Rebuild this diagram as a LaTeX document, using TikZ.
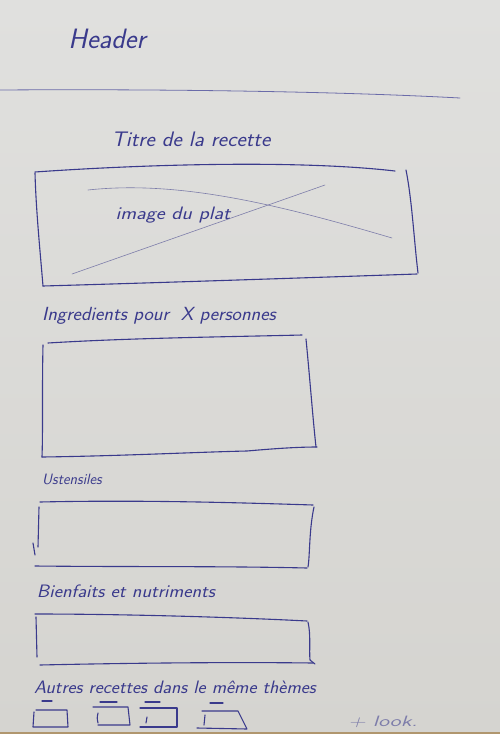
\documentclass[tikz,border=0pt]{standalone}
\usepackage{graphicx}
\usepackage{xcolor}
\definecolor{pen}{RGB}{58,58,140}
\definecolor{penlight}{RGB}{125,125,170}
\definecolor{paperA}{RGB}{224,224,222}
\definecolor{paperB}{RGB}{213,212,208}
\definecolor{tablewood}{RGB}{176,150,110}
\newcommand{\wide}[2]{\scalebox{#1}[1]{#2}}
\begin{document}
\begin{tikzpicture}[x=1pt,y=-1pt,
  ink/.style={draw=pen,line width=1.1pt,line cap=round,line join=round},
  faint/.style={draw=penlight,line width=0.6pt,line cap=round},
  lbl/.style={text=pen,inner sep=0pt,font=\sffamily\itshape\fontsize{18}{20}\selectfont},
]
\useasboundingbox (0,0) rectangle (500,734);
\shade[top color=paperA,bottom color=paperB] (0,0) rectangle (500,734);
\fill[tablewood] (0,731.5) rectangle (500,734);

% header
\node[lbl,font=\sffamily\itshape\fontsize{28}{30}\selectfont] (hdr) at (107,39) {Header};
\draw[faint,draw=pen!75,line width=0.8pt] (0,90) .. controls (150,89) and (330,91) .. (460,98);

% title + image
\node[lbl,font=\sffamily\itshape\fontsize{21}{23}\selectfont] (title) at (191,139) {\wide{1.06}{Titre de la recette}};
\draw[ink] (35,172) .. controls (150,164) and (300,160) .. (395,171);
\draw[ink] (406,170) .. controls (412,200) and (414,240) .. (418,273);
\draw[ink] (417,274) .. controls (300,278) and (150,283) .. (43,286);
\draw[ink] (35,173) .. controls (36,210) and (40,250) .. (43,286);
\draw[faint] (88,190) .. controls (180,180) and (280,205) .. (392,238);
\draw[faint] (72,274) -- (325,185);
\node[lbl,font=\sffamily\itshape\fontsize{18}{20}\selectfont] (img) at (173,215) {\wide{1.18}{image du plat}};

% ingredients
\node[lbl,font=\sffamily\itshape\fontsize{19}{21}\selectfont] (ingr) at (159,316) {\wide{1.05}{Ingredients pour\hspace{0.6em}X personnes}};
\draw[ink] (48,343) .. controls (130,338) and (220,337) .. (302,335);
\draw[ink] (306,339) .. controls (310,380) and (313,420) .. (316,447);
\draw[ink] (42,457) .. controls (120,456) and (200,452) .. (247,451) .. controls (270,449) and (295,447) .. (317,447);
\draw[ink] (43,345) .. controls (42,390) and (43,430) .. (42,457);

% ustensiles
\node[lbl,font=\sffamily\itshape\fontsize{15}{17}\selectfont] (ust) at (72,479) {Ustensiles};
\draw[ink] (40,502) .. controls (130,500) and (220,502) .. (313,505);
\draw[ink] (314,507) .. controls (309,530) and (310,555) .. (308,567);
\draw[ink] (35,566) .. controls (130,567) and (220,566) .. (307,568);
\draw[ink] (39,507) -- (38,547);
\draw[ink] (33,543) -- (35,555);

% bienfaits
\node[lbl,font=\sffamily\itshape\fontsize{18}{20}\selectfont] (bien) at (126,591) {\wide{1.1}{Bienfaits et nutriments}};
\draw[ink] (35,614) .. controls (120,614) and (230,617) .. (307,621);
\draw[ink] (308,622) .. controls (311,635) and (309,650) .. (310,660) -- (315,664);
\draw[ink] (40,665) .. controls (130,663) and (230,662) .. (313,663);
\draw[ink] (36,617) -- (37,657);

% autres recettes
\node[lbl,font=\sffamily\itshape\fontsize{18}{20}\selectfont] (autres) at (175,687) {\wide{1.07}{Autres recettes dans le même thèmes}};
\draw[ink] (36,710) -- (67,710) -- (68,727) -- (33,727) -- (34,712);
\draw[ink] (42,701) -- (52,701);
\draw[ink] (93,707) -- (128,707) -- (130,725) -- (98,725);
\draw[ink] (98,713) .. controls (97,718) .. (98,723);
\draw[ink] (100,702) -- (117,702);
\draw[ink] (140,708) -- (177,708) -- (177,727) -- (140,727);
\draw[ink] (147,717) -- (146,723);
\draw[ink] (145,702) -- (160,702);
\draw[ink] (202,711) -- (238,711) -- (247,729) -- (197,728);
\draw[ink] (205,715) -- (204,725);
\draw[ink] (210,703) -- (223,703);
\node[lbl,text=penlight,font=\sffamily\itshape\fontsize{15}{17}\selectfont] (look) at (383,722) {\wide{1.5}{+ look.}};
\end{tikzpicture}
\end{document}
